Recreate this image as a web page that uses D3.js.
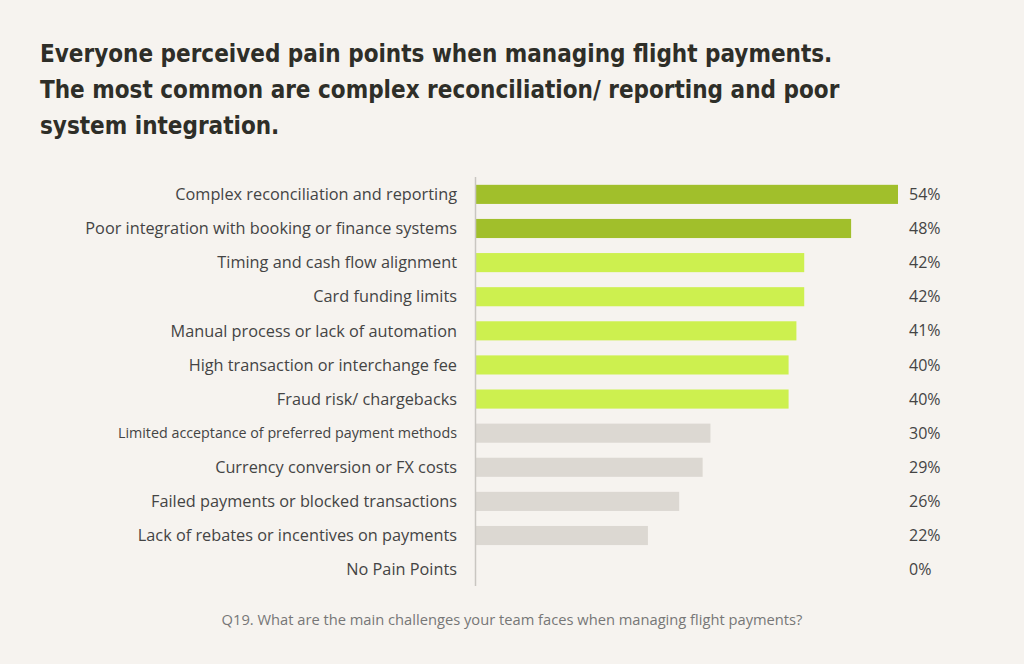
<!DOCTYPE html>
<html>
<head>
<meta charset="utf-8">
<script src="https://cdn.jsdelivr.net/npm/d3@7"></script>
<style>
  html, body { margin: 0; padding: 0; background: #f6f3ef; }
  .label { font-family: "Open Sans", sans-serif; fill: #444; }
  .title { font-family: "DejaVu Sans Condensed", "DejaVu Sans", sans-serif; font-weight: bold; fill: #2e2e28; }
</style>
</head>
<body>
<div class="canvas"></div>
<script>
const categories = [
  "Complex reconciliation and reporting",
  "Poor integration with booking or finance systems",
  "Timing and cash flow alignment",
  "Card funding limits",
  "Manual process or lack of automation",
  "High transaction or interchange fee",
  "Fraud risk/ chargebacks",
  "Limited acceptance of preferred payment methods",
  "Currency conversion or FX costs",
  "Failed payments or blocked transactions",
  "Lack of rebates or incentives on payments",
  "No Pain Points"
];
const values = [54, 48, 42, 42, 41, 40, 40, 30, 29, 26, 22, 0];
const groups = ["top", "top", "mid", "mid", "mid", "mid", "mid", "low", "low", "low", "low", "low"];

const titleLines = [
  "Everyone perceived pain points when managing flight payments.",
  "The most common are complex reconciliation/ reporting and poor",
  "system integration."
];
const footnote = "Q19. What are the main challenges your team faces when managing flight payments?";

const width = 1024;
const height = 664;
const margin = { top: 178, left: 476, bottom: 78 };
const plotHeight = height - margin.top - margin.bottom;

const svg = d3
  .select(".canvas")
  .append("svg")
  .attr("width", width)
  .attr("height", height);

svg.append("rect").attr("width", width).attr("height", height).attr("fill", "#f6f3ef");

// title
svg
  .selectAll(".title")
  .data(titleLines)
  .enter()
  .append("text")
  .attr("class", "title")
  .attr("x", 40)
  .attr("y", (d, i) => 62 + i * 36)
  .attr("font-size", 24)
  .text((d) => d);

//scales
const x = d3.scaleLinear().domain([0, 54]).range([0, 422]);
const y = d3
  .scaleBand()
  .domain(categories)
  .range([0, plotHeight])
  .paddingInner(0.44)
  .paddingOuter(0.2);

const color = d3
  .scaleOrdinal()
  .domain(["top", "mid", "low"])
  .range(["#a1bf2b", "#cdf04f", "#dcd8d2"]);

const graph = svg
  .append("g")
  .attr("transform", `translate(${margin.left}, ${margin.top})`);

// bars
graph
  .selectAll("rect.bar")
  .data(categories)
  .enter()
  .append("rect")
  .attr("class", "bar")
  .attr("x", 0)
  .attr("y", (d) => y(d))
  .attr("width", (d, i) => x(values[i]))
  .attr("height", y.bandwidth())
  .attr("fill", (d, i) => color(groups[i]));

// axis line
graph
  .append("line")
  .attr("x1", -0.5)
  .attr("x2", -0.5)
  .attr("y1", -1)
  .attr("y2", plotHeight)
  .attr("stroke", "#c9c6c1")
  .attr("stroke-width", 1.5);

// category labels (the long "Limited acceptance" label is set smaller)
graph
  .selectAll(".cat")
  .data(categories)
  .enter()
  .append("text")
  .attr("class", "label cat")
  .attr("x", -19)
  .attr("y", (d) => y(d) + y.bandwidth() / 2)
  .attr("dy", "0.35em")
  .attr("text-anchor", "end")
  .attr("font-size", (d, i) => (i === 7 ? 14.3 : 16.3))
  .text((d) => d);

// value labels
graph
  .selectAll(".val")
  .data(categories)
  .enter()
  .append("text")
  .attr("class", "label val")
  .attr("x", 433)
  .attr("y", (d) => y(d) + y.bandwidth() / 2)
  .attr("dy", "0.35em")
  .attr("font-size", 16)
  .text((d, i) => values[i] + "%");

// footnote
svg
  .append("text")
  .attr("class", "label")
  .attr("x", 512)
  .attr("y", 625)
  .attr("text-anchor", "middle")
  .attr("font-size", 14.7)
  .style("fill", "#777")
  .text(footnote);
</script>
</body>
</html>
